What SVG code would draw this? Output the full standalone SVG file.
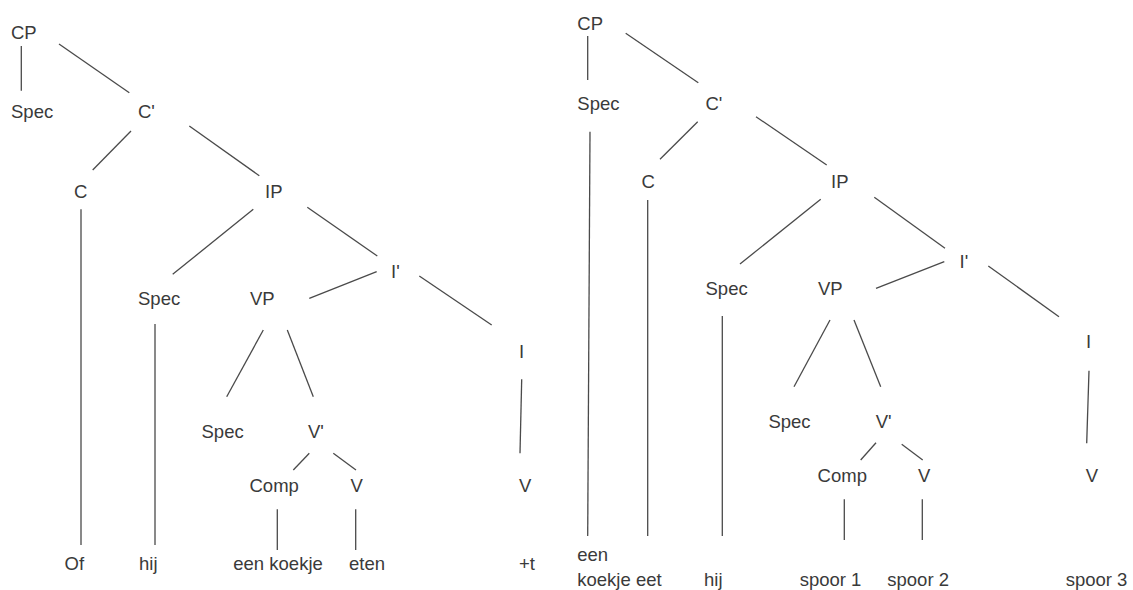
<svg xmlns="http://www.w3.org/2000/svg" width="1133" height="590" viewBox="0 0 1133 590">
<style>
text{font-family:"Liberation Sans",Arial,sans-serif;font-size:18.5px;fill:#3a3a3a}
line{stroke:#4a4a4a;stroke-width:1.3;stroke-linecap:butt}
</style>
<rect width="1133" height="590" fill="#ffffff"/>
<g id="connectors">
<line x1="21.3" y1="46" x2="21.3" y2="90.7"/>
<line x1="59" y1="44" x2="129.3" y2="92.7"/>
<line x1="131" y1="131" x2="92.7" y2="170"/>
<line x1="189.3" y1="126" x2="259.3" y2="175.7"/>
<line x1="81" y1="209.3" x2="81" y2="545"/>
<line x1="253.3" y1="209.3" x2="172.7" y2="274.3"/>
<line x1="307.3" y1="207.3" x2="377.3" y2="256"/>
<line x1="376.7" y1="271.7" x2="309.3" y2="298.3"/>
<line x1="419.3" y1="276" x2="491.7" y2="325"/>
<line x1="155" y1="324" x2="155" y2="545"/>
<line x1="263.3" y1="330" x2="226.7" y2="396.7"/>
<line x1="287.3" y1="330" x2="313.3" y2="396.7"/>
<line x1="309.3" y1="453.3" x2="293.3" y2="470"/>
<line x1="333.3" y1="453.3" x2="356" y2="470"/>
<line x1="521.7" y1="379.3" x2="520" y2="453.3"/>
<line x1="277.3" y1="509.3" x2="277.3" y2="550"/>
<line x1="355.7" y1="509.3" x2="355.7" y2="550"/>
<line x1="587.7" y1="36" x2="587.7" y2="80"/>
<line x1="625.7" y1="33.3" x2="698.3" y2="82.7"/>
<line x1="697.7" y1="121.7" x2="660" y2="159.3"/>
<line x1="756" y1="116.7" x2="826.7" y2="165"/>
<line x1="590" y1="131.7" x2="587.7" y2="536"/>
<line x1="647.7" y1="200" x2="647.7" y2="536"/>
<line x1="820.7" y1="199.3" x2="740" y2="264"/>
<line x1="874.3" y1="197.3" x2="945" y2="248.3"/>
<line x1="944.3" y1="261.7" x2="876" y2="288.3"/>
<line x1="988.3" y1="266" x2="1059" y2="316.7"/>
<line x1="722.3" y1="316" x2="722.3" y2="536"/>
<line x1="830" y1="320" x2="794" y2="386.7"/>
<line x1="854" y1="320" x2="880.7" y2="386.7"/>
<line x1="876" y1="442.7" x2="860.7" y2="460"/>
<line x1="901.7" y1="444.3" x2="922.7" y2="460"/>
<line x1="1089" y1="370.7" x2="1086.7" y2="443.3"/>
<line x1="844.3" y1="499.3" x2="844.3" y2="540"/>
<line x1="922.3" y1="499.3" x2="922.3" y2="540"/>
</g>
<g id="l-cp"><text x="11" y="38.5">CP</text></g>
<g id="l-spec1"><text x="11" y="118">Spec</text></g>
<g id="l-cbar"><text x="138" y="118">C'</text></g>
<g id="l-c"><text x="74" y="198">C</text></g>
<g id="l-ip"><text x="265" y="198">IP</text></g>
<g id="l-spec2"><text x="138" y="305">Spec</text></g>
<g id="l-vp"><text x="250" y="305">VP</text></g>
<g id="l-ibar"><text x="391" y="278.3">I'</text></g>
<g id="l-i"><text x="519" y="357.7">I</text></g>
<g id="l-spec3"><text x="201.5" y="437.7">Spec</text></g>
<g id="l-vbar"><text x="308" y="437.7">V'</text></g>
<g id="l-comp"><text x="249.5" y="491.7">Comp</text></g>
<g id="l-v1"><text x="350.5" y="491.7">V</text></g>
<g id="l-v2"><text x="519" y="491.7">V</text></g>
<g id="l-of"><text x="64.5" y="570">Of</text></g>
<g id="l-hij"><text x="139" y="570">hij</text></g>
<g id="l-koekje"><text x="233.3" y="570">een koekje</text></g>
<g id="l-eten"><text x="349" y="570">eten</text></g>
<g id="l-t"><text x="519" y="570">+t</text></g>
<g id="r-cp"><text x="577.3" y="30">CP</text></g>
<g id="r-spec1"><text x="577.3" y="110">Spec</text></g>
<g id="r-cbar"><text x="705.5" y="110">C'</text></g>
<g id="r-c"><text x="641.5" y="188.3">C</text></g>
<g id="r-ip"><text x="831" y="188.3">IP</text></g>
<g id="r-spec2"><text x="705.5" y="295">Spec</text></g>
<g id="r-vp"><text x="818" y="295">VP</text></g>
<g id="r-ibar"><text x="959.5" y="268.3">I'</text></g>
<g id="r-i"><text x="1086" y="348.3">I</text></g>
<g id="r-spec3"><text x="768.4" y="428.3">Spec</text></g>
<g id="r-vbar"><text x="875.7" y="428.3">V'</text></g>
<g id="r-comp"><text x="817.6" y="481.7">Comp</text></g>
<g id="r-v1"><text x="918" y="481.7">V</text></g>
<g id="r-v2"><text x="1085.7" y="481.7">V</text></g>
<g id="r-een"><text x="577.3" y="561">een</text><text x="577.3" y="585.5">koekje eet</text></g>
<g id="r-hij"><text x="704" y="585.5">hij</text></g>
<g id="r-spoor1"><text x="799.7" y="585.5">spoor 1</text></g>
<g id="r-spoor2"><text x="887.3" y="585.5">spoor 2</text></g>
<g id="r-spoor3"><text x="1065.7" y="585.5">spoor 3</text></g>
</svg>
